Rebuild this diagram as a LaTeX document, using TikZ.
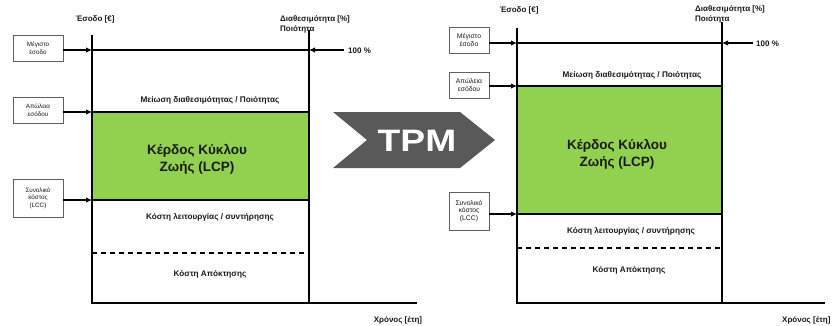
\documentclass[tikz,border=0pt]{standalone}
\usepackage{fontspec}
\setmainfont{Liberation Sans}
\usetikzlibrary{arrows.meta}
\definecolor{lcpgreen}{HTML}{92D050}
\definecolor{tpmgray}{HTML}{595959}
\definecolor{txt}{HTML}{1A1A1A}
\begin{document}
\begin{tikzpicture}[x=1pt,y=-1pt,
  axis/.style={line width=1.6pt},
  hline/.style={line width=1.1pt},
  sidebox/.style={draw=gray!75!black, line width=0.8pt, fill=white, align=center,
    text=txt, minimum height=26pt, inner sep=1pt},
  lbox/.style={sidebox, minimum width=50pt, font=\fontsize{6.3}{7.4}\selectfont},
  rbox/.style={sidebox, minimum width=40pt, font=\fontsize{6.8}{7.8}\selectfont},
  ptr/.style={-{Latex[length=6pt,width=5.5pt]}, line width=1.4pt},
  lbl/.style={text=txt, font=\bfseries\fontsize{8.2}{9}\selectfont, inner sep=0pt},
  axlbl/.style={text=txt, font=\bfseries\fontsize{8}{10}\selectfont, inner sep=0pt, align=left},
  lcp/.style={text=txt, font=\bfseries\fontsize{13.5}{17}\selectfont, align=center, inner sep=0pt}]
\useasboundingbox (0,0) rectangle (838,325);
\fill[white] (0,0) rectangle (838,325);

% ---------- LEFT DIAGRAM ----------
\fill[lcpgreen] (92,112) rectangle (309,200);
\coordinate (LTop) at (92,35);
\coordinate (LOrig) at (92,303);
\coordinate (LXend) at (417,303);
\coordinate (LRtop) at (309,30);
\coordinate (LRbot) at (309,303);
\coordinate (L1l) at (92,50);  \coordinate (L1r) at (309,50);
\coordinate (L2l) at (92,112); \coordinate (L2r) at (309,112);
\coordinate (L3l) at (92,200); \coordinate (L3r) at (309,200);
\coordinate (L4l) at (92,253); \coordinate (L4r) at (309,253);
\draw[hline] (L1l) -- (L1r);
\draw[hline] (L2l) -- (L2r);
\draw[hline] (L3l) -- (L3r);
\draw[hline, dash pattern=on 5pt off 4pt] (L4l) -- (L4r);
\draw[axis] (LTop) -- (LOrig) -- (LXend);
\draw[axis] (LRtop) -- (LRbot);

\node[axlbl, anchor=center] (Lrev) at (95,19) {Έσοδο [€]};
\node[axlbl, anchor=north west] (Lavail) at (280,15.5) {Διαθεσιμότητα [\%]\\Ποιότητα};
\node[axlbl, anchor=west] (Lhundred) at (348,51) {100 \%};
\coordinate (L100s) at (344,50);
\draw[ptr] (L100s) -- (L1r);
\node[axlbl, anchor=center] (Ltime) at (398,320) {Χρόνος [έτη]};

\node[lbl] (Lred) at (210,100) {Μείωση διαθεσιμότητας / Ποιότητας};
\node[lcp] (Llcp) at (197,159) {Κέρδος Κύκλου\\Ζωής (LCP)};
\node[lbl] (Lop) at (210,217) {Κόστη λειτουργίας / συντήρησης};
\node[lbl] (Lacq) at (210,274) {Κόστη Απόκτησης};

\node[lbox] (Lb1) at (38,48) {Μέγιστο\\έσοδο};
\node[lbox] (Lb2) at (38,110) {Απώλεια\\εσόδου};
\node[lbox, minimum height=38pt] (Lb3) at (38,198) {Συνολικό\\κόστος\\(LCC)};
\draw[ptr] (Lb1.east |- L1l) -- (L1l);
\draw[ptr] (Lb2.east |- L2l) -- (L2l);
\draw[ptr] (Lb3.east |- L3l) -- (L3l);

% ---------- TPM ARROW ----------
\fill[tpmgray] (333,112) -- (460,112) -- (495,140) -- (460,168) -- (333,168) -- (367,140) -- cycle;
\node[text=white, font=\bfseries\fontsize{31}{34}\selectfont, xscale=1.2, inner sep=0pt] (tpm) at (417,141) {TPM};

% ---------- RIGHT DIAGRAM ----------
\fill[lcpgreen] (517,86) rectangle (722,214);
\coordinate (RTop) at (517,28);
\coordinate (ROrig) at (517,303);
\coordinate (RXend) at (825,303);
\coordinate (RRtop) at (722,22);
\coordinate (RRbot) at (722,303);
\coordinate (R1l) at (517,43);  \coordinate (R1r) at (722,43);
\coordinate (R2l) at (517,86);  \coordinate (R2r) at (722,86);
\coordinate (R3l) at (517,214); \coordinate (R3r) at (722,214);
\coordinate (R4l) at (517,248); \coordinate (R4r) at (722,248);
\draw[hline] (R1l) -- (R1r);
\draw[hline] (R2l) -- (R2r);
\draw[hline] (R3l) -- (R3r);
\draw[hline, dash pattern=on 5pt off 4pt] (R4l) -- (R4r);
\draw[axis] (RTop) -- (ROrig) -- (RXend);
\draw[axis] (RRtop) -- (RRbot);

\node[axlbl, anchor=center] (Rrev) at (519,10) {Έσοδο [€]};
\node[axlbl, anchor=north west] (Ravail) at (695,5.5) {Διαθεσιμότητα [\%]\\Ποιότητα};
\node[axlbl, anchor=west] (Rhundred) at (756,44) {100 \%};
\coordinate (R100s) at (753,43);
\draw[ptr] (R100s) -- (R1r);
\node[axlbl, anchor=west] (Rtime) at (782,320) {Χρόνος [έτη]};

\node[lbl] (Rred) at (632,75) {Μείωση διαθεσιμότητας / Ποιότητας};
\node[lcp] (Rlcp) at (617,154) {Κέρδος Κύκλου\\Ζωής (LCP)};
\node[lbl] (Rop) at (631,231) {Κόστη λειτουργίας / συντήρησης};
\node[lbl] (Racq) at (629,270) {Κόστη Απόκτησης};

\node[rbox] (Rb1) at (469,40) {Μέγιστο\\έσοδο};
\node[rbox] (Rb2) at (469,85) {Απώλεια\\εσόδου};
\node[rbox, minimum height=38pt] (Rb3) at (469,211) {Συνολικό\\κόστος\\(LCC)};
\draw[ptr] (Rb1.east |- R1l) -- (R1l);
\draw[ptr] (Rb2.east |- R2l) -- (R2l);
\draw[ptr] (Rb3.east |- R3l) -- (R3l);
\end{tikzpicture}
\end{document}
